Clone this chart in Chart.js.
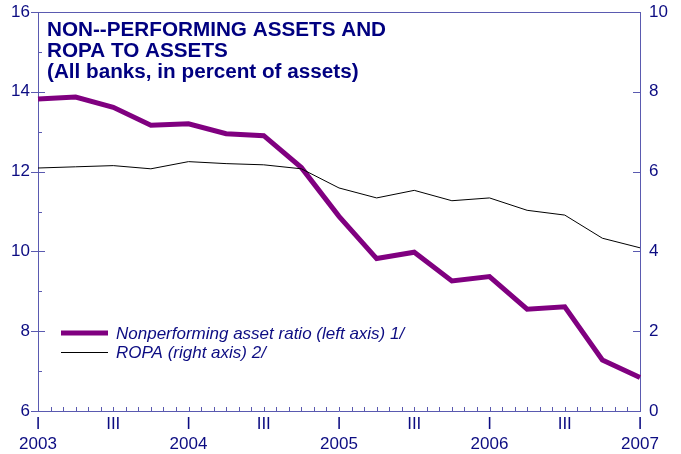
<!DOCTYPE html>
<html>
<head>
<meta charset="utf-8">
<script src="https://cdn.jsdelivr.net/npm/chart.js@4/dist/chart.umd.min.js"></script>
<style>
  html, body { margin: 0; padding: 0; background: #ffffff; }
  #wrap { width: 681px; height: 454px; }
</style>
</head>
<body>
<div id="wrap"><canvas id="c" width="681" height="454"></canvas></div>
<script>
// Quarterly observations, 2003 Q1 to 2007 Q1
const quarters = [
  '2003 I', '2003 II', '2003 III', '2003 IV',
  '2004 I', '2004 II', '2004 III', '2004 IV',
  '2005 I', '2005 II', '2005 III', '2005 IV',
  '2006 I', '2006 II', '2006 III', '2006 IV',
  '2007 I'
];
const yearLabels = ['2003', '2004', '2005', '2006', '2007'];

// Non-performing asset ratio (left axis, percent of assets)
const npaRatio = [13.82, 13.87, 13.61, 13.16, 13.2, 12.95, 12.9, 12.1,
                  10.88, 9.82, 9.98, 9.26, 9.37, 8.55, 8.61, 7.28, 6.84];
// ROPA ratio (right axis, percent of assets)
const ropaRatio = [6.09, 6.12, 6.15, 6.07, 6.25, 6.2, 6.17, 6.07,
                   5.59, 5.34, 5.53, 5.27, 5.34, 5.03, 4.91, 4.33, 4.09];

const leftAxisRange = [6, 16];
const rightAxisRange = [0, 10];

const titleLines = [
  'NON--PERFORMING ASSETS AND',
  'ROPA TO ASSETS',
  '(All banks, in percent of assets)'
];
const seriesNames = [
  'Nonperforming asset ratio (left axis) 1/',
  'ROPA (right axis) 2/'
];

const NAVY = '#0c0c82';
const AXIS = '#5a5ab0';
const PURPLE = '#800080';
const FONT = '"Liberation Sans", Arial, sans-serif';

// Frame, tick marks, title and legend
const decorations = {
  id: 'decorations',
  afterDraw(chart) {
    const ctx = chart.ctx;
    const area = chart.chartArea;
    const x = chart.scales.x, yl = chart.scales.y, yr = chart.scales.y1;
    ctx.save();
    ctx.strokeStyle = AXIS;
    ctx.lineWidth = 1;

    // top edge of the frame
    ctx.beginPath();
    ctx.moveTo(area.left, Math.round(area.top) + 0.5);
    ctx.lineTo(area.right, Math.round(area.top) + 0.5);
    ctx.stroke();

    // monthly ticks along the time axis
    ctx.beginPath();
    const months = (quarters.length - 1) * 3;
    for (let m = 0; m <= months; m++) {
      const px = Math.round(x.getPixelForValue(m / 3)) + 0.5;
      ctx.moveTo(px, area.bottom);
      ctx.lineTo(px, area.bottom - 4);
    }
    // left axis: labelled ticks cross the axis, unlabelled ones point inward
    for (let v = leftAxisRange[0]; v <= leftAxisRange[1]; v++) {
      const py = Math.round(yl.getPixelForValue(v)) + 0.5;
      if (v % 2 === 0) {
        ctx.moveTo(area.left - 7, py);
        ctx.lineTo(area.left + 7, py);
      } else {
        ctx.moveTo(area.left, py);
        ctx.lineTo(area.left + 4, py);
      }
    }
    // right axis: ticks point inward
    for (let v = rightAxisRange[0]; v <= rightAxisRange[1]; v += 2) {
      const py = Math.round(yr.getPixelForValue(v)) + 0.5;
      ctx.moveTo(area.right - 7, py);
      ctx.lineTo(area.right, py);
    }
    ctx.stroke();

    // title block
    ctx.fillStyle = '#000080';
    ctx.font = 'bold 20.7px ' + FONT;
    ctx.textBaseline = 'alphabetic';
    ctx.textAlign = 'left';
    titleLines.forEach((t, i) => ctx.fillText(t, 47, 36 + i * 21));

    // legend
    const keys = [
      { color: PURPLE, width: 5, y: 333 },
      { color: '#000000', width: 1, y: 352 }
    ];
    ctx.font = 'italic 17px ' + FONT;
    ctx.textBaseline = 'middle';
    keys.forEach((k, i) => {
      ctx.strokeStyle = k.color;
      ctx.lineWidth = k.width;
      ctx.beginPath();
      ctx.moveTo(61, k.y + (k.width === 1 ? 0.5 : 0));
      ctx.lineTo(108, k.y + (k.width === 1 ? 0.5 : 0));
      ctx.stroke();
      ctx.fillStyle = NAVY;
      ctx.fillText(seriesNames[i], 116, k.y + 1);
    });
    ctx.restore();
  }
};

// fixed axis sizes so the plot frame spans x 38..640, y 12..411
function fixVertical(width) {
  return (s) => { s.width = width; s.paddingTop = 0; s.paddingBottom = 0; };
}

new Chart(document.getElementById('c'), {
  type: 'line',
  data: {
    labels: quarters,
    datasets: [
      {
        label: seriesNames[0],
        data: npaRatio,
        yAxisID: 'y',
        borderColor: PURPLE,
        borderWidth: 5,
        borderJoinStyle: 'miter',
        pointRadius: 0,
        tension: 0,
        order: 1
      },
      {
        label: seriesNames[1],
        data: ropaRatio,
        yAxisID: 'y1',
        borderColor: '#000000',
        borderWidth: 1,
        pointRadius: 0,
        tension: 0,
        order: 0
      }
    ]
  },
  options: {
    responsive: false,
    animation: false,
    devicePixelRatio: 1,
    layout: { padding: { top: 12, left: 0, right: 0, bottom: 0 } },
    plugins: {
      legend: { display: false },
      title: { display: false },
      tooltip: { enabled: false }
    },
    scales: {
      x: {
        type: 'category',
        offset: false,
        grid: { display: false, drawTicks: false },
        border: { display: true, color: AXIS, width: 1 },
        ticks: {
          autoSkip: false,
          maxRotation: 0,
          minRotation: 0,
          padding: 3,
          color: NAVY,
          font: { family: FONT, size: 17, lineHeight: 1.2 },
          callback: (v, i) => {
            if (i % 4 === 0) return ['I', yearLabels[i / 4]];
            if (i % 4 === 2) return 'III';
            return '';
          }
        },
        afterFit: (s) => { s.height = 43; s.paddingLeft = 0; s.paddingRight = 0; }
      },
      y: {
        position: 'left',
        min: leftAxisRange[0],
        max: leftAxisRange[1],
        grid: { display: false, drawTicks: false },
        border: { display: true, color: AXIS, width: 1 },
        ticks: {
          stepSize: 2,
          padding: 8,
          color: NAVY,
          font: { family: FONT, size: 17 }
        },
        afterFit: fixVertical(38)
      },
      y1: {
        position: 'right',
        min: rightAxisRange[0],
        max: rightAxisRange[1],
        grid: { display: false, drawTicks: false },
        border: { display: true, color: AXIS, width: 1 },
        ticks: {
          stepSize: 2,
          padding: 9,
          color: NAVY,
          font: { family: FONT, size: 17 }
        },
        afterFit: fixVertical(41)
      }
    }
  },
  plugins: [decorations]
});
</script>
</body>
</html>
